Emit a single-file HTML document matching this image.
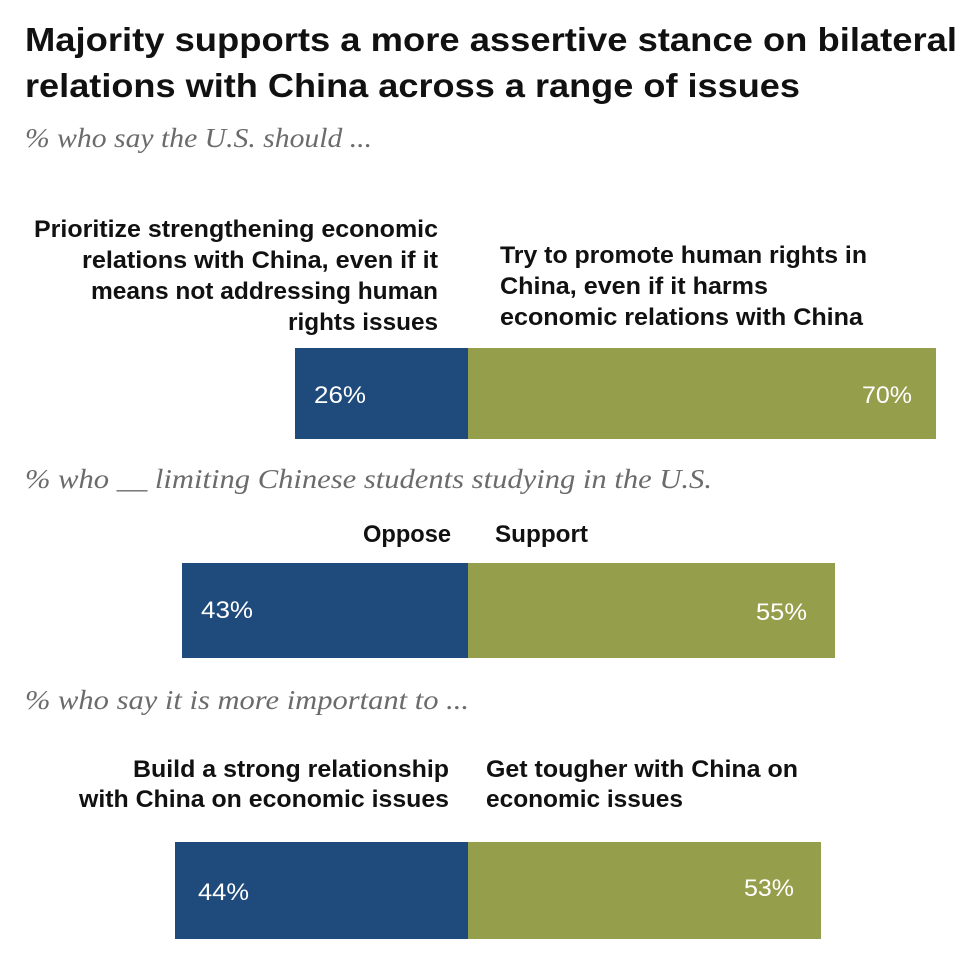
<!DOCTYPE html>
<html>
<head>
<meta charset="utf-8">
<style>
  html,body{margin:0;padding:0;background:#fff;}
  svg{display:block;}
  .t{font-family:"Liberation Sans",sans-serif;font-weight:bold;fill:#111;}
  .l{font-family:"Liberation Sans",sans-serif;font-weight:bold;fill:#111;font-size:24px;}
  .s{font-family:"Liberation Serif",serif;font-style:italic;fill:#6b6b6b;font-size:27px;}
  .p{font-family:"Liberation Sans",sans-serif;fill:#fff;font-size:24px;}
</style>
</head>
<body>
<svg width="972" height="959" viewBox="0 0 972 959" xmlns="http://www.w3.org/2000/svg">
  <rect width="972" height="959" fill="#fff"/>
  <!-- Title -->
  <text class="t" x="25" y="51" font-size="33" textLength="932" lengthAdjust="spacingAndGlyphs">Majority supports a more assertive stance on bilateral</text>
  <text class="t" x="25" y="97" font-size="33" textLength="775" lengthAdjust="spacingAndGlyphs">relations with China across a range of issues</text>

  <!-- Section 1 -->
  <text class="s" x="25" y="147" textLength="347" lengthAdjust="spacingAndGlyphs">% who say the U.S. should ...</text>

  <text class="l" x="34" y="237" textLength="404" lengthAdjust="spacingAndGlyphs">Prioritize strengthening economic</text>
  <text class="l" x="82" y="268" textLength="356" lengthAdjust="spacingAndGlyphs">relations with China, even if it</text>
  <text class="l" x="91" y="299" textLength="347" lengthAdjust="spacingAndGlyphs">means not addressing human</text>
  <text class="l" x="288" y="330" textLength="150" lengthAdjust="spacingAndGlyphs">rights issues</text>

  <text class="l" x="500" y="263" textLength="367" lengthAdjust="spacingAndGlyphs">Try to promote human rights in</text>
  <text class="l" x="500" y="294" textLength="268" lengthAdjust="spacingAndGlyphs">China, even if it harms</text>
  <text class="l" x="500" y="325" textLength="363" lengthAdjust="spacingAndGlyphs">economic relations with China</text>

  <rect x="295" y="348" width="173" height="91" fill="#1f4a7c"/>
  <rect x="468" y="348" width="468" height="91" fill="#959e4b"/>
  <text class="p" x="314" y="403" textLength="52" lengthAdjust="spacingAndGlyphs">26%</text>
  <text class="p" x="862" y="403" textLength="50" lengthAdjust="spacingAndGlyphs">70%</text>

  <!-- Section 2 -->
  <text class="s" x="25" y="488" textLength="687" lengthAdjust="spacingAndGlyphs">% who __ limiting Chinese students studying in the U.S.</text>
  <text class="l" x="363" y="542" textLength="88" lengthAdjust="spacingAndGlyphs">Oppose</text>
  <text class="l" x="495" y="542" textLength="93" lengthAdjust="spacingAndGlyphs">Support</text>

  <rect x="182" y="563" width="286" height="95" fill="#1f4a7c"/>
  <rect x="468" y="563" width="367" height="95" fill="#959e4b"/>
  <text class="p" x="201" y="618" textLength="52" lengthAdjust="spacingAndGlyphs">43%</text>
  <text class="p" x="756" y="620" textLength="51" lengthAdjust="spacingAndGlyphs">55%</text>

  <!-- Section 3 -->
  <text class="s" x="25" y="709" textLength="444" lengthAdjust="spacingAndGlyphs">% who say it is more important to ...</text>
  <text class="l" x="133" y="777" textLength="316" lengthAdjust="spacingAndGlyphs">Build a strong relationship</text>
  <text class="l" x="79" y="807" textLength="370" lengthAdjust="spacingAndGlyphs">with China on economic issues</text>
  <text class="l" x="486" y="777" textLength="312" lengthAdjust="spacingAndGlyphs">Get tougher with China on</text>
  <text class="l" x="486" y="807" textLength="197" lengthAdjust="spacingAndGlyphs">economic issues</text>

  <rect x="175" y="842" width="293" height="97" fill="#1f4a7c"/>
  <rect x="468" y="842" width="353" height="97" fill="#959e4b"/>
  <text class="p" x="198" y="900" textLength="51" lengthAdjust="spacingAndGlyphs">44%</text>
  <text class="p" x="744" y="896" textLength="50" lengthAdjust="spacingAndGlyphs">53%</text>
</svg>
</body>
</html>
